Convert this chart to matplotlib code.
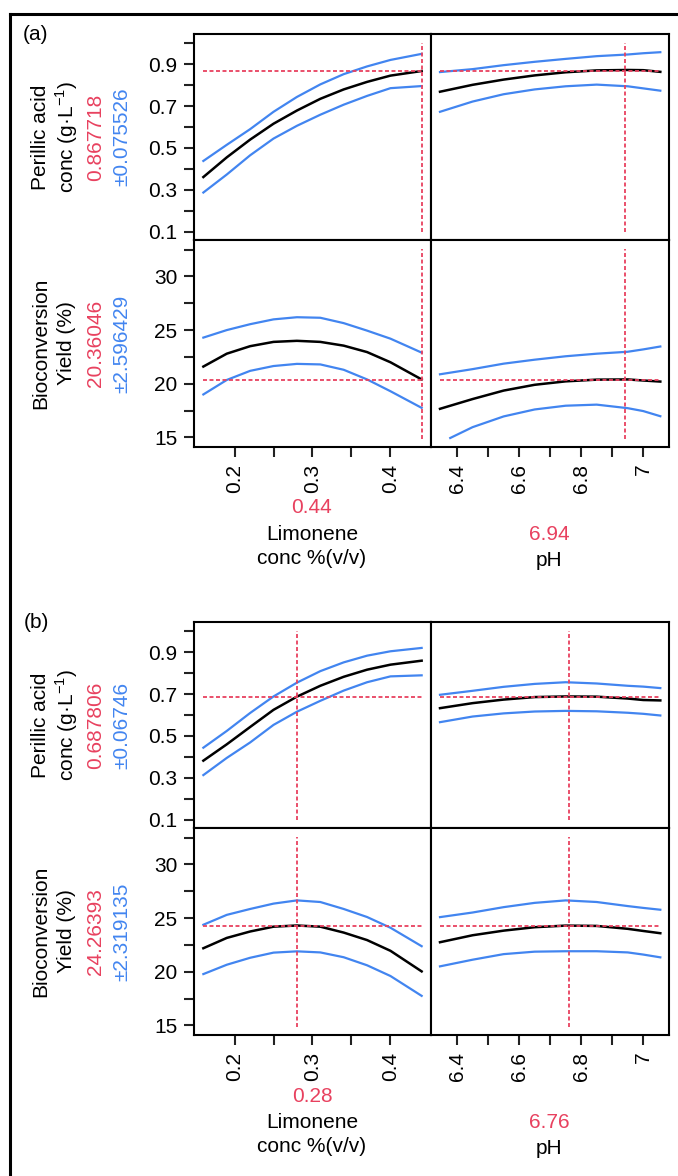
import matplotlib
matplotlib.use('Agg')
import matplotlib.pyplot as plt
from matplotlib.lines import Line2D

W, H = 678, 1176

plt.rcParams['font.family'] = ['Liberation Sans', 'DejaVu Sans']
plt.rcParams['mathtext.fontset'] = 'custom'
plt.rcParams['mathtext.rm'] = 'Liberation Sans'

RED = '#e8415f'
BLUE = '#4285f0'
DASH = (0, (2.2, 1.4))

# profile grids
lim = [0.16, 0.19, 0.22, 0.25, 0.28, 0.31, 0.34, 0.37, 0.40, 0.44]
ph = [6.345, 6.45, 6.55, 6.65, 6.75, 6.85, 6.95, 7.0, 7.055]
ph_a_yield_lo = [6.378, 6.45, 6.55, 6.65, 6.75, 6.85, 6.95, 7.0, 7.055]

# (a) settings / predictions
a_lim_set, a_ph_set = 0.44, 6.94
a_pa_pred, a_pa_ci = 0.867718, 0.075526
a_yd_pred, a_yd_ci = 20.36046, 2.596429

a_pa_lim = [0.361, 0.455, 0.540, 0.616, 0.679, 0.735, 0.780, 0.816, 0.846, 0.868]
a_pa_lim_hi = [0.438, 0.515, 0.590, 0.673, 0.744, 0.804, 0.853, 0.890, 0.921, 0.950]
a_pa_lim_lo = [0.287, 0.373, 0.465, 0.545, 0.606, 0.659, 0.707, 0.749, 0.786, 0.796]
a_pa_ph = [0.769, 0.802, 0.827, 0.847, 0.862, 0.871, 0.873, 0.872, 0.864]
a_pa_ph_hi = [0.863, 0.877, 0.896, 0.912, 0.926, 0.939, 0.947, 0.953, 0.958]
a_pa_ph_lo = [0.673, 0.722, 0.757, 0.780, 0.795, 0.803, 0.795, 0.785, 0.774]

a_yd_lim = [21.6, 22.8, 23.5, 23.9, 24.0, 23.9, 23.55, 22.95, 22.0, 20.4]
a_yd_lim_hi = [24.3, 25.0, 25.55, 26.0, 26.2, 26.15, 25.65, 24.95, 24.2, 22.9]
a_yd_lim_lo = [19.0, 20.35, 21.2, 21.65, 21.85, 21.8, 21.3, 20.4, 19.3, 17.75]
a_yd_ph = [17.66, 18.57, 19.36, 19.9, 20.22, 20.38, 20.4, 20.3, 20.2]
a_yd_ph_hi = [20.88, 21.36, 21.87, 22.24, 22.56, 22.8, 22.98, 23.2, 23.47]
a_yd_ph_lo = [14.94, 15.95, 16.95, 17.6, 17.95, 18.05, 17.72, 17.45, 16.97]

# (b) settings / predictions
b_lim_set, b_ph_set = 0.28, 6.76
b_pa_pred, b_pa_ci = 0.687806, 0.06746
b_yd_pred, b_yd_ci = 24.26393, 2.319135

b_pa_lim = [0.382, 0.460, 0.543, 0.625, 0.688, 0.740, 0.783, 0.817, 0.841, 0.860]
b_pa_lim_hi = [0.444, 0.524, 0.610, 0.689, 0.755, 0.810, 0.852, 0.884, 0.905, 0.921]
b_pa_lim_lo = [0.313, 0.395, 0.469, 0.553, 0.616, 0.668, 0.717, 0.757, 0.785, 0.790]
b_pa_ph = [0.633, 0.657, 0.674, 0.686, 0.689, 0.688, 0.679, 0.672, 0.670]
b_pa_ph_hi = [0.697, 0.716, 0.735, 0.749, 0.757, 0.751, 0.740, 0.736, 0.729]
b_pa_ph_lo = [0.566, 0.593, 0.608, 0.617, 0.620, 0.618, 0.611, 0.606, 0.598]

b_yd_lim = [22.19, 23.15, 23.75, 24.2, 24.31, 24.2, 23.65, 22.95, 21.95, 20.03]
b_yd_lim_hi = [24.38, 25.3, 25.85, 26.35, 26.65, 26.5, 25.85, 25.1, 24.1, 22.38]
b_yd_lim_lo = [19.78, 20.65, 21.3, 21.78, 21.9, 21.8, 21.35, 20.6, 19.6, 17.75]
b_yd_ph = [22.75, 23.4, 23.83, 24.15, 24.3, 24.27, 24.0, 23.8, 23.59]
b_yd_ph_hi = [25.09, 25.52, 26.02, 26.42, 26.65, 26.5, 26.12, 25.95, 25.78]
b_yd_ph_lo = [20.5, 21.12, 21.64, 21.87, 21.91, 21.91, 21.8, 21.6, 21.34]

# axis ranges and ticks
pa_range = (0.06, 1.045)
yd_range = (14.1, 33.4)
lim_range = (0.148, 0.452)
ph_range = (6.316, 7.083)
pa_ticks, pa_minor = [0.1, 0.3, 0.5, 0.7, 0.9], [0.2, 0.4, 0.6, 0.8, 1.0]
yd_ticks, yd_minor = [15, 20, 25, 30], [17.5, 22.5, 27.5, 32.5]
lim_ticks, lim_minor = [0.2, 0.3, 0.4], [0.25, 0.35]
lim_labels = ['0.2', '0.3', '0.4']
ph_ticks, ph_minor = [6.4, 6.6, 6.8, 7.0], [6.5, 6.7, 6.9]
ph_labels = ['6.4', '6.6', '6.8', '7']


def px_axes(x0, y0, x1, y1):
    return fig.add_axes([x0 / W, 1 - y1 / H, (x1 - x0) / W, (y1 - y0) / H])


def ftext(x, y, s, **kw):
    fig.text(x / W, 1 - y / H, s, ha='center', va='center', **kw)


def style_axes(ax, xlim, ylim):
    ax.set_xlim(*xlim)
    ax.set_ylim(*ylim)
    for sp in ax.spines.values():
        sp.set_linewidth(1.5)
    ax.tick_params(which='both', direction='out', length=7, width=1.5,
                   color='#222222', labelsize=15, pad=5)
    ax.tick_params(which='both', left=False, labelleft=False,
                   bottom=False, labelbottom=False)


def draw_profile(ax, x, mid, hi, lo, setting, pred, x_lo=None):
    ax.plot(x, hi, color=BLUE, lw=1.6)
    ax.plot(x_lo if x_lo else x, lo, color=BLUE, lw=1.6)
    ax.plot(x, mid, color='black', lw=1.8)
    ax.hlines(pred, x[0], x[-1], colors=RED, linestyles=DASH, lw=1.3)
    ax.axvline(setting, ymin=0.04, ymax=0.955, color=RED, ls=DASH, lw=1.3)


def draw_block(top, label, lim_set, ph_set, pa_pred, pa_ci, yd_pred, yd_ci,
               pa_lim, pa_lim_hi, pa_lim_lo, pa_ph, pa_ph_hi, pa_ph_lo,
               yd_lim, yd_lim_hi, yd_lim_lo, yd_ph, yd_ph_hi, yd_ph_lo,
               ph_lo_x=None):
    mid_y = top + 206
    bot = top + 413
    ax1 = px_axes(194, top, 431, mid_y)
    ax2 = px_axes(431, top, 669, mid_y)
    ax3 = px_axes(194, mid_y, 431, bot)
    ax4 = px_axes(431, mid_y, 669, bot)
    style_axes(ax1, lim_range, pa_range)
    style_axes(ax2, ph_range, pa_range)
    style_axes(ax3, lim_range, yd_range)
    style_axes(ax4, ph_range, yd_range)

    draw_profile(ax1, lim, pa_lim, pa_lim_hi, pa_lim_lo, lim_set, pa_pred)
    draw_profile(ax2, ph, pa_ph, pa_ph_hi, pa_ph_lo, ph_set, pa_pred)
    draw_profile(ax3, lim, yd_lim, yd_lim_hi, yd_lim_lo, lim_set, yd_pred)
    draw_profile(ax4, ph, yd_ph, yd_ph_hi, yd_ph_lo, ph_set, yd_pred, ph_lo_x)

    for ax, major, minor in [(ax1, pa_ticks, pa_minor), (ax3, yd_ticks, yd_minor)]:
        ax.tick_params(which='both', left=True)
        ax.tick_params(which='major', labelleft=True)
        ax.set_yticks(major)
        ax.set_yticks(minor, minor=True)
        ax.set_yticklabels([f'{t:g}' for t in major])
    for ax, major, minor, labs in [(ax3, lim_ticks, lim_minor, lim_labels),
                                   (ax4, ph_ticks, ph_minor, ph_labels)]:
        ax.tick_params(which='both', bottom=True)
        ax.tick_params(which='major', labelbottom=True)
        ax.set_xticks(major)
        ax.set_xticks(minor, minor=True)
        ax.set_xticklabels(labs, rotation=90)

    # row labels
    fs = 15
    rc = (top + mid_y) / 2
    ftext(41, rc, 'Perillic acid', rotation=90, fontsize=fs)
    ftext(67, rc, 'conc (g·L$^{-1}$)', rotation=90, fontsize=fs)
    ftext(96, rc, str(pa_pred), rotation=90, fontsize=fs, color=RED)
    ftext(122, rc, '±' + str(pa_ci), rotation=90, fontsize=fs, color=BLUE)
    rc = (mid_y + bot) / 2
    ftext(41, rc, 'Bioconversion', rotation=90, fontsize=fs)
    ftext(67, rc, 'Yield (%)', rotation=90, fontsize=fs)
    ftext(96, rc, str(yd_pred), rotation=90, fontsize=fs, color=RED)
    ftext(122, rc, '±' + str(yd_ci), rotation=90, fontsize=fs, color=BLUE)

    # column labels
    ftext(312, bot + 61, str(lim_set), fontsize=fs, color=RED)
    ftext(312, bot + 87, 'Limonene', fontsize=fs)
    ftext(312, bot + 111, 'conc %(v/v)', fontsize=fs)
    ftext(549, bot + 88, str(ph_set), fontsize=fs, color=RED)
    ftext(549, bot + 113, 'pH', fontsize=fs)

    ftext(36, top + 1, label, fontsize=15)


fig = plt.figure(figsize=(W / 100, H / 100), dpi=100)

# outer frame (cut at right and bottom)
fig.add_artist(Line2D([9.5 / W, 9.5 / W], [1 - 13.5 / H, 0], color='black',
                      lw=2.2, transform=fig.transFigure))
fig.add_artist(Line2D([9.5 / W, 1], [1 - 13.5 / H, 1 - 13.5 / H], color='black',
                      lw=2.2, transform=fig.transFigure))

draw_block(34, '(a)', a_lim_set, a_ph_set, a_pa_pred, a_pa_ci, a_yd_pred, a_yd_ci,
           a_pa_lim, a_pa_lim_hi, a_pa_lim_lo, a_pa_ph, a_pa_ph_hi, a_pa_ph_lo,
           a_yd_lim, a_yd_lim_hi, a_yd_lim_lo, a_yd_ph, a_yd_ph_hi, a_yd_ph_lo,
           ph_a_yield_lo)
draw_block(622, '(b)', b_lim_set, b_ph_set, b_pa_pred, b_pa_ci, b_yd_pred, b_yd_ci,
           b_pa_lim, b_pa_lim_hi, b_pa_lim_lo, b_pa_ph, b_pa_ph_hi, b_pa_ph_lo,
           b_yd_lim, b_yd_lim_hi, b_yd_lim_lo, b_yd_ph, b_yd_ph_hi, b_yd_ph_lo)

fig.savefig('out.png', dpi=100)
